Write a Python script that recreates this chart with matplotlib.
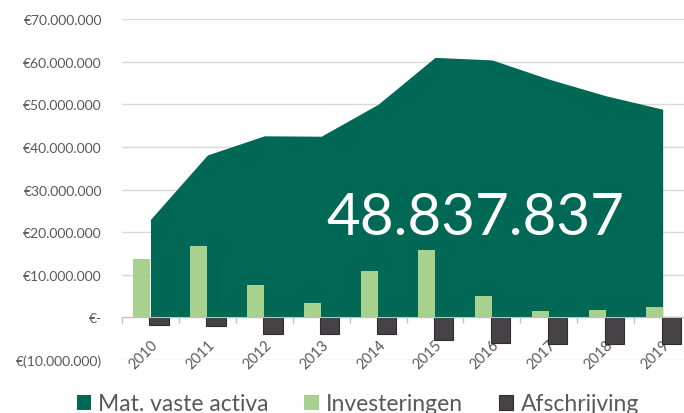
import numpy as np
import matplotlib
matplotlib.use('Agg')
import matplotlib.pyplot as plt
from matplotlib.ticker import FuncFormatter

plt.rcParams['font.family'] = ['Lato', 'DejaVu Sans']

# Data
years = ['2010', '2011', '2012', '2013', '2014', '2015', '2016', '2017', '2018', '2019']
vaste_activa = [23.0e6, 38.1e6, 42.6e6, 42.5e6, 50.0e6, 61.0e6, 60.4e6, 55.9e6, 52.0e6, 48837837]
investeringen = [13.8e6, 16.7e6, 7.6e6, 3.4e6, 10.9e6, 15.7e6, 5.0e6, 1.4e6, 1.8e6, 2.4e6]
afschrijving = [-1.8e6, -2.1e6, -3.8e6, -4.0e6, -4.0e6, -5.2e6, -5.9e6, -6.3e6, -6.3e6, -6.2e6]

dark_green = '#026856'
light_green = '#a9d18e'
dark_gray = '#464245'
text_gray = '#595959'

x = np.arange(len(years))

fig = plt.figure(figsize=(6.84, 4.14), dpi=100)
ax = fig.add_axes([0.1784, 0.128, 0.832, 0.8237])

# Area for the fixed assets
area = ax.fill_between(x, 0, vaste_activa, color=dark_green, lw=0, zorder=2,
                       label='Mat. vaste activa')

# Bars: investments left of centre, depreciation right of centre
b1 = ax.bar(x - 0.3, investeringen, width=0.3, align='edge', color=light_green,
            lw=0, zorder=3, label='Investeringen')
b2 = ax.bar(x - 0.02, afschrijving, width=0.34, align='edge', color=dark_gray,
            edgecolor='#2f2d2f', lw=0.8, zorder=3, label='Afschrijving')

# Axes limits and grid
ax.set_xlim(-0.5, len(years) - 0.5)
ax.set_ylim(-10e6, 70e6)
ax.set_yticks(np.arange(-10e6, 70e6 + 1, 10e6))
ax.yaxis.grid(True, color='#d9d9d9', lw=1)
ax.set_axisbelow(True)


def euro(v, pos):
    if abs(v) < 1:
        return '€-'
    s = f'{abs(v):,.0f}'.replace(',', '.')
    return f'€({s})' if v < 0 else f'€{s}'


ax.yaxis.set_major_formatter(FuncFormatter(euro))
ax.tick_params(axis='y', length=0, pad=14.5, labelsize=10, labelcolor=text_gray)

for side in ['left', 'right', 'top']:
    ax.spines[side].set_visible(False)
ax.spines['bottom'].set_position(('data', 0))
ax.spines['bottom'].set_color('#bfbfbf')
ax.spines['bottom'].set_zorder(4)

# Category labels at centres, tick marks at boundaries
ax.set_xticks(x)
ax.set_xticklabels(years)
ax.set_xticks(np.arange(-0.5, len(years)), minor=True)
ax.tick_params(axis='x', which='major', length=0, pad=14, labelsize=10.5,
               labelcolor=text_gray)
ax.tick_params(axis='x', which='minor', length=4, color='#bfbfbf', width=1)
for lbl in ax.get_xticklabels():
    lbl.set_rotation(45)
    lbl.set_rotation_mode('anchor')
    lbl.set_ha('right')
    lbl.set_va('top')

# Big value label of the last year
last = f'{vaste_activa[-1]:,.0f}'.replace(',', '.')
ax.text(0.620, 0.3695, last, transform=ax.transAxes, ha='center', va='baseline',
        color='white', fontsize=42, zorder=5)

# Legend at the bottom
fig.legend(handles=[area, b1, b2], loc='center', bbox_to_anchor=(0.523, 0.022),
           ncol=3, frameon=False, fontsize=16.5, labelcolor=text_gray,
           handlelength=0.62, handleheight=0.62, handletextpad=0.33,
           columnspacing=1.55)

fig.savefig('out.png', dpi=100)
